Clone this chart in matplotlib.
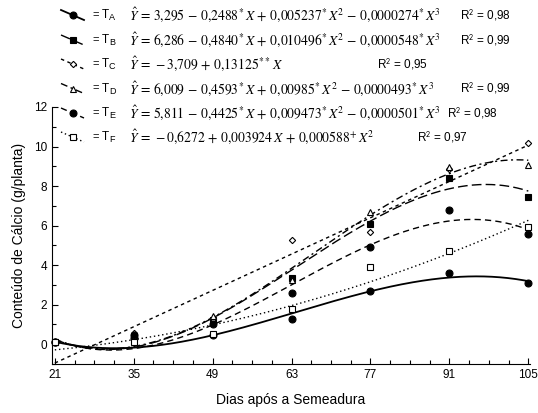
import numpy as np
import matplotlib
matplotlib.use("Agg")
import matplotlib.pyplot as plt
from matplotlib.lines import Line2D
from matplotlib.ticker import MultipleLocator, FixedLocator

plt.rcParams["font.family"] = ["Liberation Sans", "DejaVu Sans"]
plt.rcParams["mathtext.fontset"] = "stix"

# Sampling days and observed calcium content (g/plant) per treatment
days = [21, 35, 49, 63, 77, 91, 105]
obs_A = [0.10, 0.30, 0.45, 1.30, 2.70, 3.60, 3.10]
obs_B = [0.10, 0.35, 1.25, 3.35, 6.10, 8.40, 7.45]
obs_C = [0.10, 0.55, 1.30, 5.25, 5.70, 8.85, 10.20]
obs_D = [0.10, 0.40, 1.42, 3.25, 6.67, 8.95, 9.05]
obs_E = [0.10, 0.45, 1.00, 2.60, 4.90, 6.80, 5.60]
obs_F = [0.10, 0.10, 0.50, 1.80, 3.90, 4.70, 5.95]

# Regression coefficients (constant, X, X^2, X^3)
coef_A = [3.295, -0.2488, 0.005237, -0.0000274]
coef_B = [6.286, -0.4840, 0.010496, -0.0000548]
coef_C = [-3.709, 0.13125, 0.0, 0.0]
coef_D = [6.009, -0.4593, 0.00985, -0.0000493]
coef_E = [5.811, -0.4425, 0.009473, -0.0000501]
coef_F = [-0.6272, 0.003924, 0.000588, 0.0]

treatments = ["A", "B", "C", "D", "E", "F"]
equations = [
    r"$\hat{Y}\,=\,3{,}295\,-\,0{,}2488^{*}\,X\,+\,0{,}005237^{*}\,X^{2}\,-\,0{,}0000274^{*}\,X^{3}$",
    r"$\hat{Y}\,=\,6{,}286\,-\,0{,}4840^{*}\,X\,+\,0{,}010496^{*}\,X^{2}\,-\,0{,}0000548^{*}\,X^{3}$",
    r"$\hat{Y}\,=\,-3{,}709\,+\,0{,}13125^{**}\,X$",
    r"$\hat{Y}\,=\,6{,}009\,-\,0{,}4593^{*}\,X\,+\,0{,}00985^{*}\,X^{2}\,-\,0{,}0000493^{*}\,X^{3}$",
    r"$\hat{Y}\,=\,5{,}811\,-\,0{,}4425^{*}\,X\,+\,0{,}009473^{*}\,X^{2}\,-\,0{,}0000501^{*}\,X^{3}$",
    r"$\hat{Y}\,=\,-0{,}6272\,+\,0{,}003924\,X\,+\,0{,}000588^{+}\,X^{2}$",
]
r2_values = ["0,98", "0,99", "0,95", "0,99", "0,98", "0,97"]

x_ticks = [21, 35, 49, 63, 77, 91, 105]
y_ticks = [0, 2, 4, 6, 8, 10, 12]

observed = [obs_A, obs_B, obs_C, obs_D, obs_E, obs_F]
coefs = [coef_A, coef_B, coef_C, coef_D, coef_E, coef_F]

# Style of each treatment: line style, marker, marker face colour, marker size
styles = [
    dict(ls="-", lw=1.3, marker="o", mfc="black", ms=5.0),
    dict(ls=(0, (7, 3)), lw=1.0, marker="s", mfc="black", ms=5.0),
    dict(ls=(0, (2.5, 2.5)), lw=1.0, marker="D", mfc="white", ms=3.2),
    dict(ls=(0, (5, 2.5, 1.5, 2.5)), lw=1.0, marker="^", mfc="white", ms=4.5),
    dict(ls=(0, (4.5, 3)), lw=1.0, marker="o", mfc="black", ms=5.0),
    dict(ls=(0, (1, 2)), lw=1.0, marker="s", mfc="white", ms=5.0),
]

W, H = 538, 413
fig = plt.figure(figsize=(W / 100, H / 100), dpi=100)
ax = fig.add_axes([52 / W, 1 - 364 / H, (530 - 52) / W, (364 - 107) / H])

xx = np.linspace(21, 105, 300)
for i, (obs, c, st) in enumerate(zip(observed, coefs, styles)):
    yy = c[0] + c[1] * xx + c[2] * xx ** 2 + c[3] * xx ** 3
    ax.plot(xx, yy, color="black", ls=st["ls"], lw=st["lw"], zorder=2)
    ax.plot(days, obs, ls="none", marker=st["marker"], ms=st["ms"],
            mfc=st["mfc"], mec="black", mew=0.8, zorder=3 + i, clip_on=False)

ax.set_xlim(20.5, 105.3)
ax.set_ylim(-1, 12)
ax.xaxis.set_major_locator(FixedLocator(x_ticks))
ax.xaxis.set_minor_locator(MultipleLocator(3.5))
ax.yaxis.set_major_locator(FixedLocator(y_ticks))
ax.yaxis.set_minor_locator(MultipleLocator(1))
ax.tick_params(which="both", direction="in", labelsize=8.5, width=0.8)
ax.tick_params(which="major", length=4)
ax.tick_params(which="minor", length=3)
for s in ("top", "right"):
    ax.spines[s].set_visible(False)
for s in ("left", "bottom"):
    ax.spines[s].set_linewidth(0.8)

ax.set_xlabel("Dias após a Semeadura", fontsize=10, labelpad=9)
ax.set_ylabel("Conteúdo de Cálcio (g/planta)", fontsize=10, labelpad=6)

# Key: sloped line samples with marker, treatment name, equation and R²
def fx(px):
    return px / W

def fy(py):
    return 1 - py / H

row_y = [15, 40, 64, 88.5, 113, 137]
r2_x = [460, 460, 377, 460, 447, 417]
for i, t in enumerate(treatments):
    st = styles[i]
    yc = row_y[i]
    fig.add_artist(Line2D([fx(61), fx(84)], [fy(yc - 5), fy(yc + 5)],
                          color="black", ls=st["ls"], lw=st["lw"],
                          transform=fig.transFigure))
    fig.add_artist(Line2D([fx(72.5)], [fy(yc)], ls="none", marker=st["marker"],
                          ms=st["ms"], mfc=st["mfc"], mec="black", mew=0.8,
                          transform=fig.transFigure))
    fig.text(fx(92), fy(yc), "=", fontsize=8, va="center", ha="left")
    fig.text(fx(102), fy(yc), "T", fontsize=8.5, va="center", ha="left")
    fig.text(fx(109), fy(yc + 2.5), t, fontsize=6.5, va="center", ha="left")
    fig.text(fx(129), fy(yc), equations[i], fontsize=9.8, va="center", ha="left")
    fig.text(fx(r2_x[i]), fy(yc), r"R$^{\mathsf{2}}$ = " + r2_values[i],
             fontsize=8.5, va="center", ha="left")

fig.savefig("out.png", dpi=100)
